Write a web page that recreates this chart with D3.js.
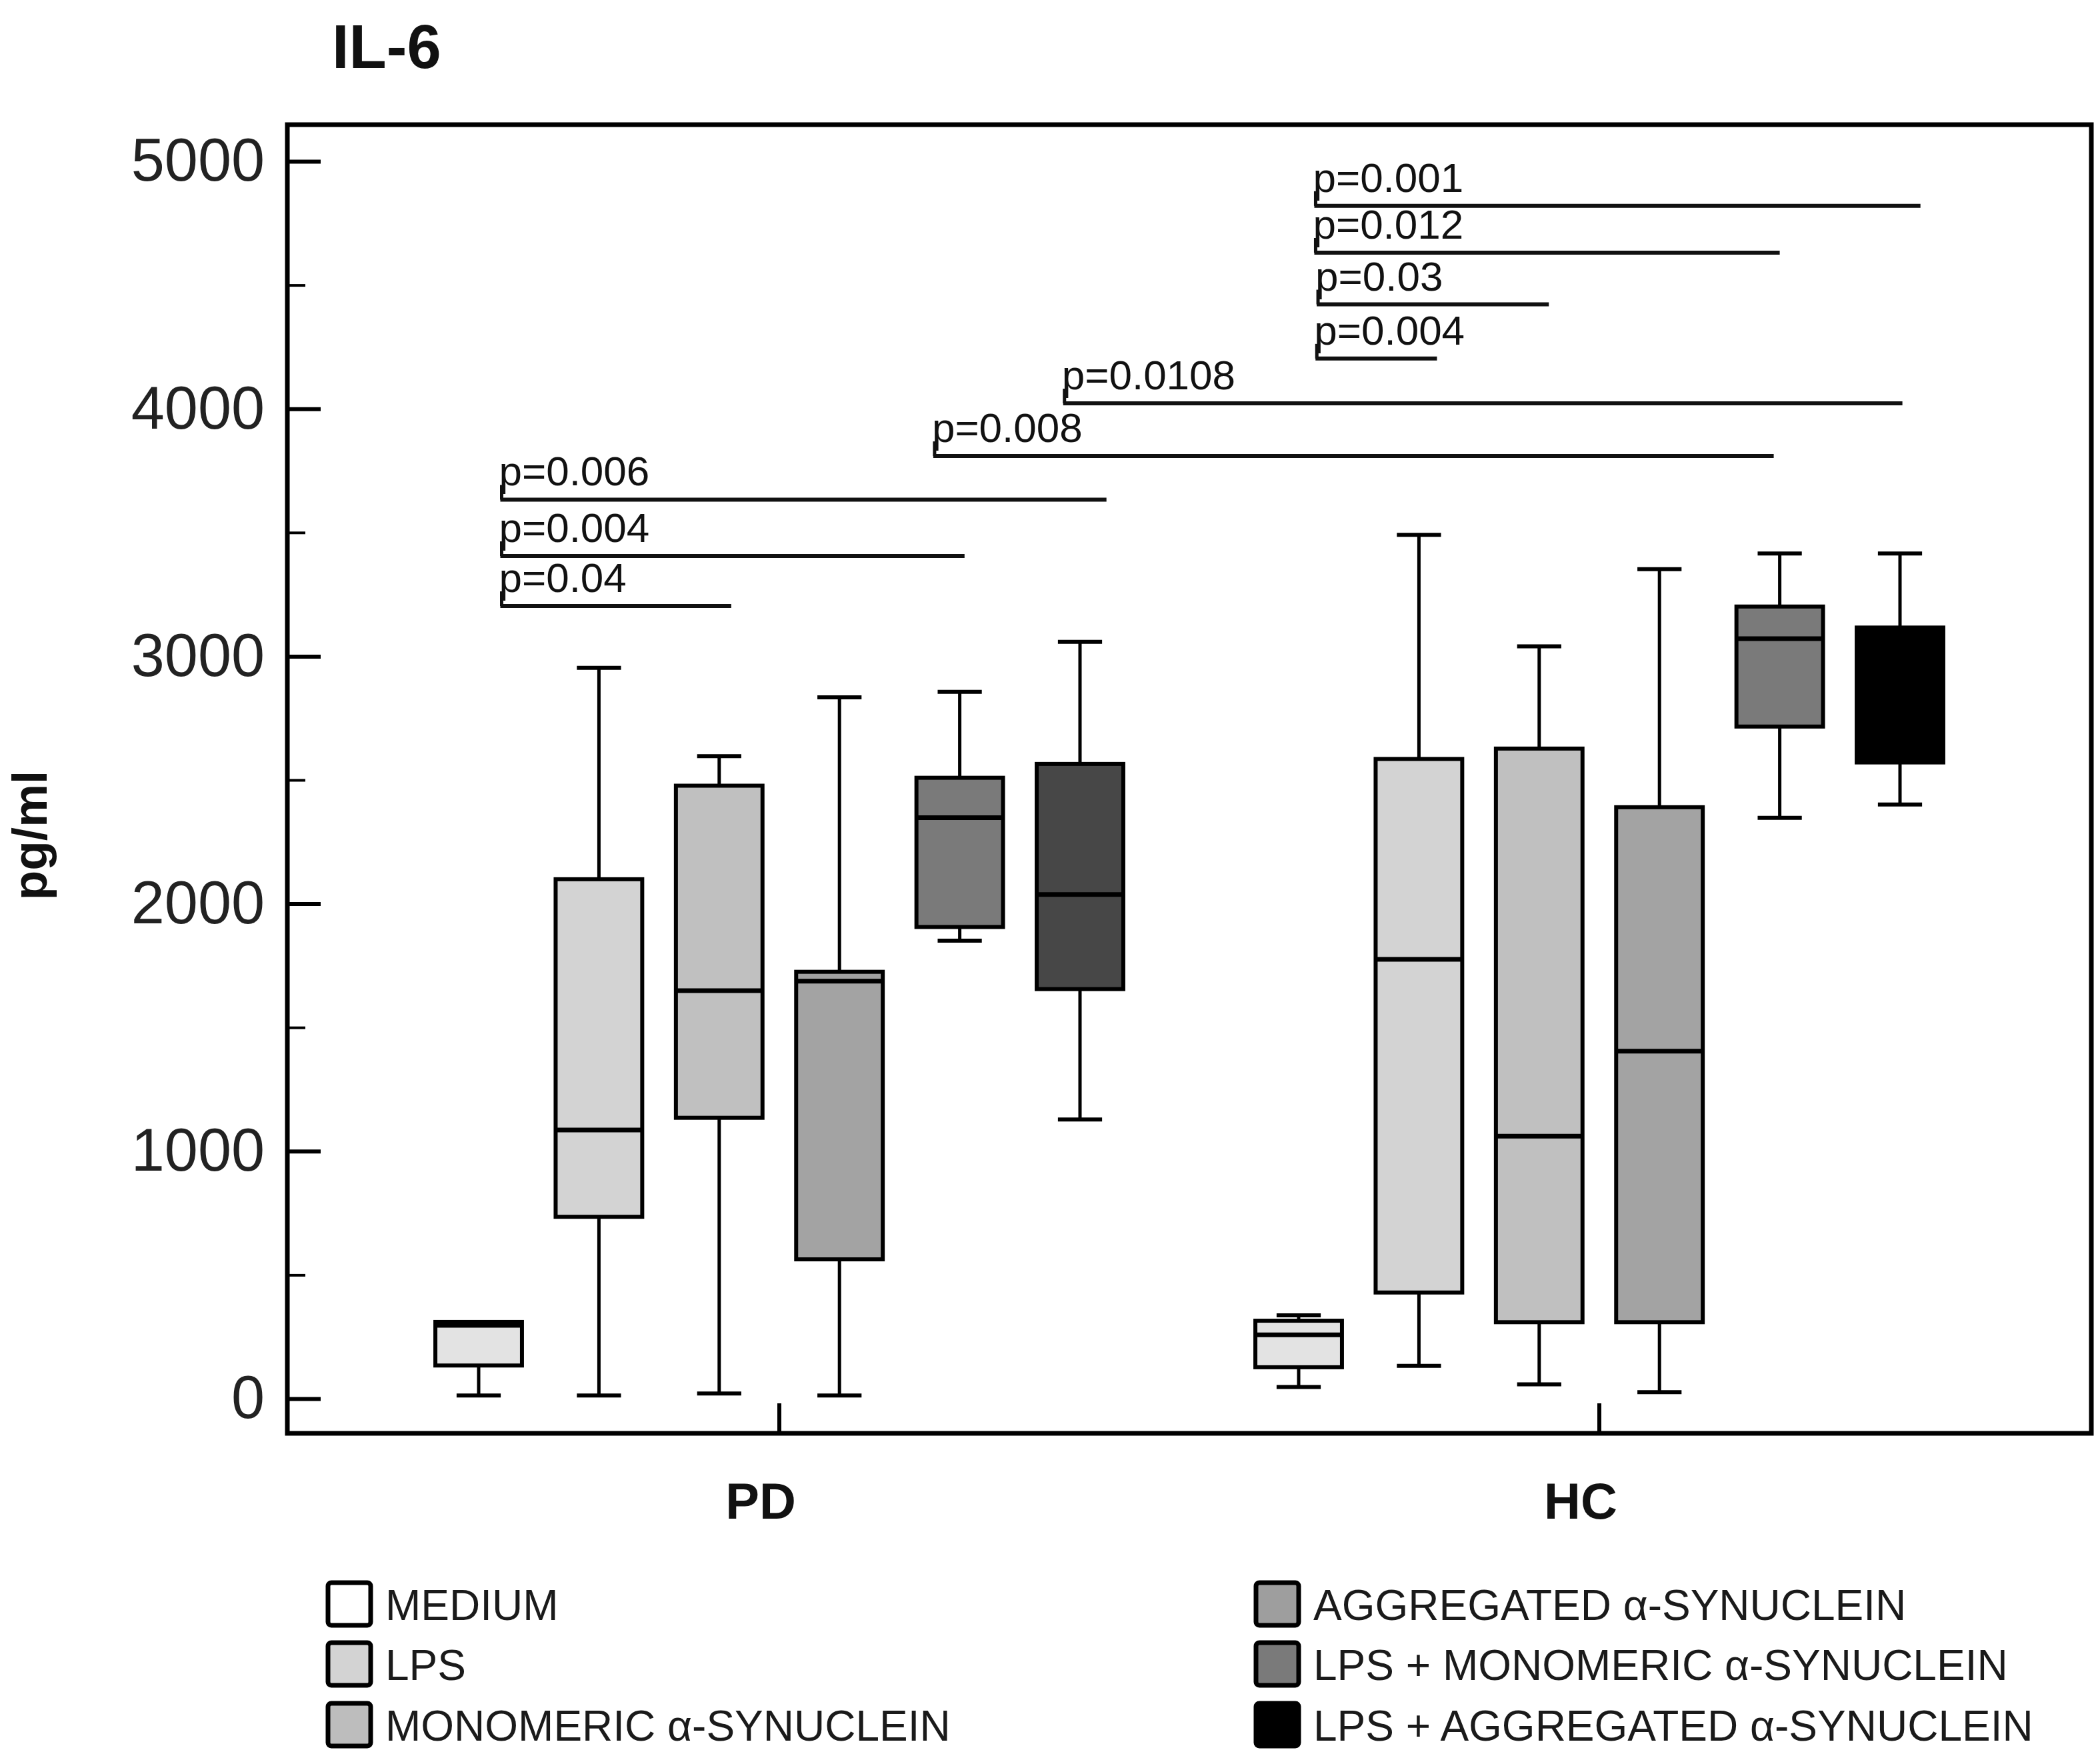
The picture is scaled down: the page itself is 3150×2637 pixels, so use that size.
<!DOCTYPE html>
<html>
<head>
<meta charset="utf-8">
<script src="https://cdn.jsdelivr.net/npm/d3@7"></script>
<style>
html,body{margin:0;padding:0;background:#fff;}
svg{display:block;}
text{font-family:Arial,"Liberation Sans",Helvetica,sans-serif;}
</style>
</head>
<body>
<svg id="chart" width="3150" height="2637"></svg>
<script>
// ---------------- data ----------------
const groups = ["PD", "HC"];
const series = [
  "MEDIUM",
  "LPS",
  "MONOMERIC α-SYNUCLEIN",
  "AGGREGATED α-SYNUCLEIN",
  "LPS + MONOMERIC α-SYNUCLEIN",
  "LPS + AGGREGATED α-SYNUCLEIN"
];
// each entry: [min, q1, median, q3, max]  (pg/ml)
const pdValues = [
  [13, 134, 296, 310, 310],
  [13, 735, 1086, 2099, 2953],
  [21, 1135, 1649, 2477, 2596],
  [13, 563, 1687, 1725, 2834],
  [1851, 1906, 2348, 2509, 2856],
  [1128, 1655, 2037, 2565, 3058]
];
const hcValues = [
  [47, 127, 258, 315, 337],
  [133, 429, 1775, 2585, 3491],
  [58, 309, 1061, 2627, 3040],
  [26, 309, 1404, 2390, 3352],
  [2347, 2716, 3071, 3201, 3415],
  [2401, 2571, 2850, 3116, 3415]
];
const yTicks = [0, 1000, 2000, 3000, 4000, 5000];
const yMinorTicks = [500, 1500, 2500, 3500, 4500];
const legendFill = ["#ffffff", "#d3d3d3", "#bdbdbd", "#9e9e9e", "#7a7a7a", "#000000"];
const pdBoxFill  = ["#e3e3e3", "#d3d3d3", "#c0c0c0", "#a3a3a3", "#7a7a7a", "#474747"];
const hcBoxFill  = ["#e3e3e3", "#d3d3d3", "#c0c0c0", "#a3a3a3", "#7a7a7a", "#000000"];
// significance bars: from / to given as [group, box position (box index units)], height in pg/ml
const comparisons = [
  {label: "p=0.04",   from: ["PD", 0.18], to: ["PD", 2.10], value: 3203},
  {label: "p=0.004",  from: ["PD", 0.18], to: ["PD", 4.04], value: 3405},
  {label: "p=0.006",  from: ["PD", 0.18], to: ["PD", 5.22], value: 3633},
  {label: "p=0.008",  from: ["PD", 3.78], to: ["HC", 3.95], value: 3809},
  {label: "p=0.0108", from: ["PD", 4.86], to: ["HC", 5.02], value: 4022},
  {label: "p=0.004",  from: ["HC", 0.14], to: ["HC", 1.15], value: 4203},
  {label: "p=0.03",   from: ["HC", 0.15], to: ["HC", 2.08], value: 4422},
  {label: "p=0.012",  from: ["HC", 0.13], to: ["HC", 4.00], value: 4631},
  {label: "p=0.001",  from: ["HC", 0.13], to: ["HC", 5.17], value: 4820}
];
const titleText = "IL-6";
const yLabel = "pg/ml";

// ---------------- layout ----------------
const frame = {left: 431, right: 3137, top: 187, bottom: 2150};
const svg = d3.select("#chart");

const y = d3.scaleLinear().domain([0, 5000]).range([2098, 242]);
const xGroup = d3.scalePoint().domain(groups).range([frame.left, frame.right]).padding(0.6);
const half = xGroup.step() * 0.44;
const xSub = d3.scaleBand().domain(d3.range(series.length)).range([-half, half])
  .paddingInner(0.28).paddingOuter(0.14);
const bw = xSub.bandwidth();
const posX = (g, i) => xGroup(g) + xSub(0) + bw / 2 + i * xSub.step();

// ---------------- boxes ----------------
const boxData = [];
groups.forEach(g => {
  const vals = g === "PD" ? pdValues : hcValues;
  const fills = g === "PD" ? pdBoxFill : hcBoxFill;
  vals.forEach((v, i) => boxData.push({g, i, v, fill: fills[i]}));
});

const boxes = svg.append("g").selectAll("g").data(boxData).join("g")
  .attr("transform", d => `translate(${posX(d.g, d.i)},0)`);

const capW = bw * 0.51;
// lower whisker
boxes.append("line").attr("x1", 0).attr("x2", 0)
  .attr("y1", d => y(d.v[0])).attr("y2", d => y(d.v[1]))
  .attr("stroke", "#000").attr("stroke-width", 5);
boxes.append("line").attr("x1", -capW / 2).attr("x2", capW / 2)
  .attr("y1", d => y(d.v[0])).attr("y2", d => y(d.v[0]))
  .attr("stroke", "#000").attr("stroke-width", 6);
// upper whisker
boxes.filter(d => d.v[4] > d.v[3]).append("line").attr("x1", 0).attr("x2", 0)
  .attr("y1", d => y(d.v[4])).attr("y2", d => y(d.v[3]))
  .attr("stroke", "#000").attr("stroke-width", 5);
boxes.filter(d => d.v[4] > d.v[3]).append("line").attr("x1", -capW / 2).attr("x2", capW / 2)
  .attr("y1", d => y(d.v[4])).attr("y2", d => y(d.v[4]))
  .attr("stroke", "#000").attr("stroke-width", 6);
// box
boxes.append("rect")
  .attr("x", -bw / 2).attr("width", bw)
  .attr("y", d => y(d.v[3])).attr("height", d => y(d.v[1]) - y(d.v[3]))
  .attr("fill", d => d.fill).attr("stroke", "#000").attr("stroke-width", 6);
// median
boxes.append("line").attr("x1", -bw / 2).attr("x2", bw / 2)
  .attr("y1", d => y(d.v[2])).attr("y2", d => y(d.v[2]))
  .attr("stroke", "#000").attr("stroke-width", 7);

// ---------------- frame & axes ----------------
svg.append("rect")
  .attr("x", frame.left).attr("y", frame.top)
  .attr("width", frame.right - frame.left).attr("height", frame.bottom - frame.top)
  .attr("fill", "none").attr("stroke", "#000").attr("stroke-width", 7);

const yAxis = svg.append("g").attr("transform", `translate(${frame.left},0)`)
  .call(d3.axisLeft(y).tickValues(yTicks).tickSize(-50).tickPadding(34).tickFormat(d3.format("d")));
yAxis.select(".domain").remove();
yAxis.selectAll(".tick line").attr("stroke", "#000").attr("stroke-width", 6);
yAxis.selectAll(".tick text").attr("font-size", 90).attr("fill", "#222")
  .attr("font-family", "Arial, 'Liberation Sans', sans-serif");

const yMinor = svg.append("g").attr("transform", `translate(${frame.left},0)`)
  .call(d3.axisLeft(y).tickValues(yMinorTicks).tickSize(-27).tickFormat(""));
yMinor.select(".domain").remove();
yMinor.selectAll(".tick line").attr("stroke", "#000").attr("stroke-width", 4);

// group ticks on x axis
svg.append("g").selectAll("line").data(groups).join("line")
  .attr("x1", d => xGroup(d)).attr("x2", d => xGroup(d))
  .attr("y1", frame.bottom).attr("y2", frame.bottom - 45)
  .attr("stroke", "#000").attr("stroke-width", 6);
svg.append("g").selectAll("text").data(groups).join("text")
  .attr("x", d => xGroup(d) - 28).attr("y", 2278)
  .attr("text-anchor", "middle").attr("font-size", 76).attr("font-weight", "bold")
  .attr("fill", "#111").text(d => d);

// ---------------- significance bars ----------------
const comp = svg.append("g").selectAll("g").data(comparisons).join("g");
comp.append("line")
  .attr("x1", d => posX(d.from[0], d.from[1])).attr("x2", d => posX(d.to[0], d.to[1]))
  .attr("y1", d => y(d.value)).attr("y2", d => y(d.value))
  .attr("stroke", "#111").attr("stroke-width", 6);
comp.append("line")
  .attr("x1", d => posX(d.from[0], d.from[1]) + 2).attr("x2", d => posX(d.from[0], d.from[1]) + 2)
  .attr("y1", d => y(d.value)).attr("y2", d => y(d.value) - 22)
  .attr("stroke", "#111").attr("stroke-width", 5);
comp.append("text")
  .attr("x", d => posX(d.from[0], d.from[1]) - 2).attr("y", d => y(d.value) - 21)
  .attr("font-size", 62).attr("fill", "#111").text(d => d.label);

// ---------------- titles ----------------
svg.append("text").attr("x", 498).attr("y", 102)
  .attr("font-size", 92).attr("font-weight", "bold").attr("fill", "#111").text(titleText);
svg.append("text").attr("transform", "translate(70,1253) rotate(-90)")
  .attr("text-anchor", "middle").attr("font-size", 73).attr("font-weight", "bold")
  .attr("fill", "#111").text(yLabel);

// ---------------- legend ----------------
const legendRows = [2374, 2464, 2555];
const legendCols = [492, 1884];
const leg = svg.append("g").selectAll("g").data(series).join("g")
  .attr("transform", (d, i) => `translate(${legendCols[Math.floor(i / 3)]},${legendRows[i % 3]})`);
leg.append("rect").attr("width", 64).attr("height", 64).attr("rx", 5)
  .attr("fill", (d, i) => legendFill[i]).attr("stroke", "#000").attr("stroke-width", 7);
leg.append("text").attr("x", 86).attr("y", 56)
  .attr("font-size", 64).attr("fill", "#1a1a1a").text(d => d);
</script>
</body>
</html>
